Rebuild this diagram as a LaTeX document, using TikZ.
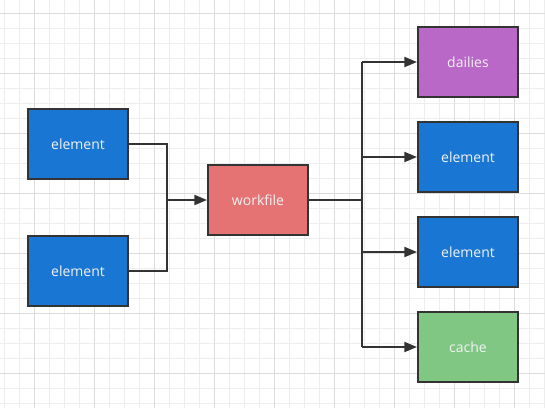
\documentclass[tikz,border=0pt]{standalone}
\usepackage{fontspec}
\setmainfont{Open Sans}
\usetikzlibrary{arrows.meta}
\definecolor{gridminor}{HTML}{EDEDED}
\definecolor{gridmajor}{HTML}{DCDCDC}
\definecolor{cblue}{HTML}{1976D2}
\definecolor{cred}{HTML}{E57373}
\definecolor{cpurple}{HTML}{BA68C8}
\definecolor{cgreen}{HTML}{81C784}
\definecolor{cline}{HTML}{333333}
\definecolor{ctext}{HTML}{F2F2F2}
\begin{document}
\begin{tikzpicture}[x=0.75pt,y=-0.75pt,
  box/.style={draw=cline,line width=1.5pt,minimum width=75pt,minimum height=52.5pt,inner sep=0pt,
    font=\fontsize{10.5}{12}\selectfont,text=ctext,anchor=north west},
  conn/.style={draw=cline,line width=1.5pt},
  arr/.style={conn,-{Triangle[length=9.5pt,width=7.5pt]}}]
\fill[white] (0,0) rectangle (545,408);
\useasboundingbox (0,0) rectangle (545,408);
\foreach \x in {4,19,...,545} \draw[gridminor,line width=0.75pt] (\x,0) -- (\x,408);
\foreach \y in {13,28,...,408} \draw[gridminor,line width=0.75pt] (0,\y) -- (545,\y);
\foreach \x in {34,94,...,545} \draw[gridmajor,line width=0.75pt] (\x,0) -- (\x,408);
\foreach \y in {13,73,...,408} \draw[gridmajor,line width=0.75pt] (0,\y) -- (545,\y);

\node[box,fill=cblue] (e1) at (27,108) {element};
\node[box,fill=cblue] (e2) at (27,235) {element};
\node[box,fill=cred] (wf) at (207,164) {workfile};
\node[box,fill=cpurple] (da) at (417,26) {dailies};
\node[box,fill=cblue] (e3) at (417,121) {element};
\node[box,fill=cblue] (e4) at (417,216) {element};
\node[box,fill=cgreen] (ca) at (417,311) {cache};

\coordinate (jl) at (167,199);
\coordinate (jr) at (362,199);
\draw[conn] (e1.east) -| (jl);
\draw[conn] (e2.east) -| (jl);
\draw[arr] (jl |- wf.west) -- (wf.west);
\draw[conn] (wf.east) -- (wf.east -| jr);
\draw[conn] (jr |- da.west) -- (jr |- ca.west);
\draw[arr] (jr |- da.west) -- (da.west);
\draw[arr] (jr |- e3.west) -- (e3.west);
\draw[arr] (jr |- e4.west) -- (e4.west);
\draw[arr] (jr |- ca.west) -- (ca.west);
\end{tikzpicture}
\end{document}
